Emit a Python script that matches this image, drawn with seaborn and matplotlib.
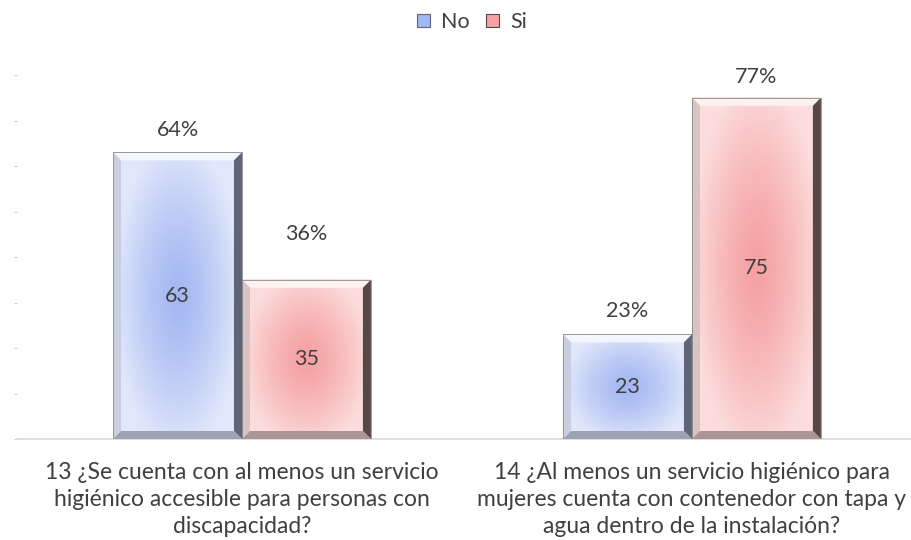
import numpy as np
import pandas as pd
import seaborn as sns
from matplotlib import pyplot as plt
from matplotlib import colors as mpl_colors
from matplotlib.patches import Patch, Polygon

# data
questions = [
    "13 ¿Se cuenta con al menos un servicio\nhigiénico accesible para personas con\ndiscapacidad?",
    "14 ¿Al menos un servicio higiénico para\nmujeres cuenta con contenedor con tapa y\nagua dentro de la instalación?",
]
answers = ["No", "Si"]
no_counts = [63, 23]
si_counts = [35, 75]
no_pct = ["64%", "23%"]
si_pct = ["36%", "77%"]

sns.set_style("white")
plt.rcParams["font.family"] = ["Lato", "DejaVu Sans"]
TXT = "#404040"

df = pd.DataFrame({
    "pregunta": questions * 2,
    "respuesta": ["No"] * 2 + ["Si"] * 2,
    "n": no_counts + si_counts,
})
pct_labels = no_pct + si_pct
pct_offset = [12, 13, 36, 11]  # px above bar top (36% sits higher in the original)

# centre / edge / bevel colours per series
styles = {
    "No": dict(center="#a3b7f2", edge="#e2e8fb", left="#c9cfe0", right="#5f6478",
               bottom="#9ea3b4", top="#f4f6fd"),
    "Si": dict(center="#f5a0a2", edge="#fcdcdc", left="#d9c3c3", right="#574848",
               bottom="#ad9595", top="#fdf1f1"),
}

fig = plt.figure(figsize=(9.12, 5.4), dpi=100)
ax = fig.add_axes([17 / 912, 101 / 540, 895 / 912, 364 / 540])

sns.barplot(data=df, x="pregunta", y="n", hue="respuesta", hue_order=answers,
            palette=[styles["No"]["center"], styles["Si"]["center"]],
            width=0.573, gap=0, errorbar=None, ax=ax, legend=False)

ax.set_xlim(-0.5, 1.489)
ax.set_ylim(0, 80)

px_x = 1.989 / 895   # data units per pixel
px_y = 80 / 364
bev_x = 8 * px_x
bev_y = 8 * px_y

def radial(c_in, c_out, n=120):
    yy, xx = np.mgrid[-1:1:n * 1j, -1:1:n * 1j]
    d = np.clip(np.sqrt(xx ** 2 + (yy * 0.9) ** 2), 0, 1) ** 1.3
    a = np.array(mpl_colors.to_rgb(c_in))
    b = np.array(mpl_colors.to_rgb(c_out))
    return a[None, None, :] * (1 - d[..., None]) + b[None, None, :] * d[..., None]

for i, p in enumerate(ax.patches):
    ans = answers[i // 2]
    st = styles[ans]
    x0, w = p.get_x(), p.get_width()
    h = p.get_height()
    p.set_visible(False)
    ax.imshow(radial(st["center"], st["edge"]), extent=(x0, x0 + w, 0, h),
              aspect="auto", origin="lower", zorder=2, interpolation="bilinear")
    x1, y1 = x0 + w, h
    # bevel bands
    ax.add_patch(Polygon([(x0, y1), (x1, y1), (x1 - bev_x, y1 - bev_y), (x0 + bev_x, y1 - bev_y)],
                         closed=True, fc=st["top"], ec="none", zorder=3))
    ax.add_patch(Polygon([(x0, 0), (x0, y1), (x0 + bev_x, y1 - bev_y), (x0 + bev_x, bev_y)],
                         closed=True, fc=st["left"], ec="none", zorder=3))
    ax.add_patch(Polygon([(x1, 0), (x1, y1), (x1 - bev_x, y1 - bev_y), (x1 - bev_x, bev_y)],
                         closed=True, fc=st["right"], ec="none", zorder=3))
    ax.add_patch(Polygon([(x0, 0), (x1, 0), (x1 - bev_x, bev_y), (x0 + bev_x, bev_y)],
                         closed=True, fc=st["bottom"], ec="none", zorder=3))
    ax.add_patch(plt.Rectangle((x0, 0), w, h, fc="none", ec="#8a8a8a", lw=0.6, zorder=4))

    ax.text(x0 + w / 2, h / 2, str(df["n"].iloc[i]), ha="center", va="center",
            fontsize=15.5, color=TXT, zorder=5)
    ax.annotate(pct_labels[i], (x0 + w / 2, h), xytext=(0, pct_offset[i] * 0.72),
                textcoords="offset points", ha="center", va="bottom",
                fontsize=15.5, color=TXT, annotation_clip=False)

for s in ["top", "right", "left"]:
    ax.spines[s].set_visible(False)
ax.spines["bottom"].set_color("#d9d9d9")
ax.spines["bottom"].set_linewidth(1.2)
ax.set_yticks(np.arange(0, 81, 10))
ax.set_yticklabels([])
ax.tick_params(axis="y", left=True, length=2.5, width=0.8, color="#d0d0d0", pad=0)
ax.tick_params(axis="x", bottom=False, pad=13)
ax.set_xticks([0, 1])
ax.set_xticklabels(questions, fontsize=16.5, color=TXT, linespacing=1.36, va="top")
ax.set_xlabel("")
ax.set_ylabel("")

handles = [Patch(facecolor=styles[a]["center"], edgecolor=styles[a]["right"], lw=0.8) for a in answers]
fig.legend(handles, answers, loc="center", bbox_to_anchor=(472 / 912, 1 - 22 / 540), ncol=2,
           frameon=False, fontsize=15.5, labelcolor=TXT, handlelength=0.6, handleheight=0.6,
           handletextpad=0.5, columnspacing=0.8)

fig.savefig("out.png", dpi=100, facecolor="white")
